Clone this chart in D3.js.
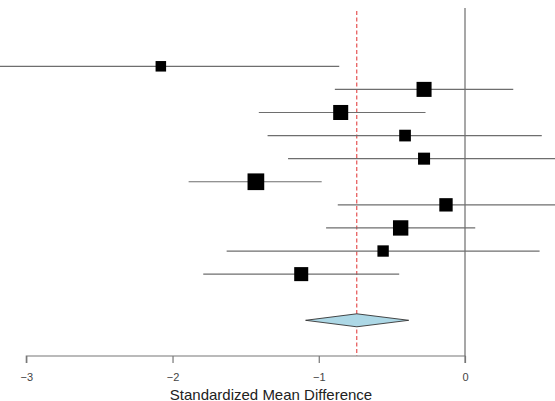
<!DOCTYPE html>
<html>
<head>
<meta charset="utf-8">
<script src="https://cdn.jsdelivr.net/npm/d3@7"></script>
<style>
  html, body { margin: 0; padding: 0; background: #fff; }
  svg { display: block; font-family: "Liberation Sans", Arial, sans-serif; }
</style>
</head>
<body>
<svg id="chart" width="555" height="401"></svg>
<script>
// ---- data ----
const studies   = ["S1", "S2", "S3", "S4", "S5", "S6", "S7", "S8", "S9", "S10"];
const estimates = [-2.08, -0.28, -0.85, -0.41, -0.28, -1.43, -0.13, -0.44, -0.56, -1.12];
const lowers    = [-3.30, -0.89, -1.41, -1.35, -1.21, -1.89, -0.87, -0.95, -1.63, -1.79];
const uppers    = [-0.86,  0.33, -0.27,  0.525, 0.65, -0.98,  0.62,  0.07,  0.51, -0.45];
const weights   = [6.3, 9.0, 9.0, 7.0, 7.2, 10.0, 8.0, 9.2, 6.8, 8.4];
const summary   = { est: -0.74, lo: -1.09, hi: -0.385 };
const xTicks    = [-3, -2, -1, 0];
const xTitle    = "Standardized Mean Difference";

// ---- layout ----
const svg = d3.select("#chart");
const x = d3.scaleLinear().domain([-3, 0]).range([26.3, 465]);
const y = d3.scaleLinear().domain([1, 12]).range([66.3, 320.3]);
const box = d3.scaleLinear().domain([0, d3.max(weights)]).range([0, 16.7]);
const axisY = 356;

const rows = studies.map((s, i) => ({
  name: s, est: estimates[i], lo: lowers[i], hi: uppers[i], w: weights[i], row: i + 1
}));

// zero reference line
svg.append("line")
  .attr("x1", x(0)).attr("x2", x(0))
  .attr("y1", 8).attr("y2", axisY)
  .attr("stroke", "#8a8a8a").attr("stroke-width", 1.5);

// pooled estimate dashed line
svg.append("line")
  .attr("x1", x(summary.est)).attr("x2", x(summary.est))
  .attr("y1", 11).attr("y2", axisY)
  .attr("stroke", "#e03030").attr("stroke-width", 1)
  .attr("stroke-dasharray", "4,2.5");

// confidence intervals
svg.append("g").selectAll("line")
  .data(rows).join("line")
  .attr("x1", d => x(d.lo)).attr("x2", d => x(d.hi))
  .attr("y1", d => y(d.row)).attr("y2", d => y(d.row))
  .attr("stroke", "#6e6e6e").attr("stroke-width", 1.2);

// study boxes
svg.append("g").selectAll("rect")
  .data(rows).join("rect")
  .attr("x", d => x(d.est) - box(d.w) / 2)
  .attr("y", d => y(d.row) - box(d.w) / 2)
  .attr("width", d => box(d.w))
  .attr("height", d => box(d.w))
  .attr("fill", "#000");

// summary diamond
const yd = y(12), hh = 6.5;
svg.append("path")
  .attr("d", `M${x(summary.lo)},${yd} L${x(summary.est)},${yd - hh} L${x(summary.hi)},${yd} L${x(summary.est)},${yd + hh} Z`)
  .attr("fill", "#add8e6").attr("stroke", "#333").attr("stroke-width", 0.9);

// x axis
const axis = d3.axisBottom(x).tickValues(xTicks).tickSize(7).tickPadding(10)
  .tickFormat(d3.format("d"));
const gx = svg.append("g").attr("transform", `translate(0,${axisY})`).call(axis);
gx.select(".domain").attr("stroke", "#777").attr("stroke-width", 1.2)
  .attr("d", `M${x(-3)},7V0H${x(0)}V7`);
gx.selectAll(".tick line").attr("stroke", "#777").attr("stroke-width", 1.2);
gx.selectAll(".tick text").attr("font-size", 11).attr("fill", "#444")
  .attr("font-family", "Liberation Sans, Arial, sans-serif");

// axis title
svg.append("text")
  .attr("x", 271).attr("y", 399.5)
  .attr("text-anchor", "middle")
  .attr("font-size", 15).attr("fill", "#222")
  .text(xTitle);
</script>
</body>
</html>
